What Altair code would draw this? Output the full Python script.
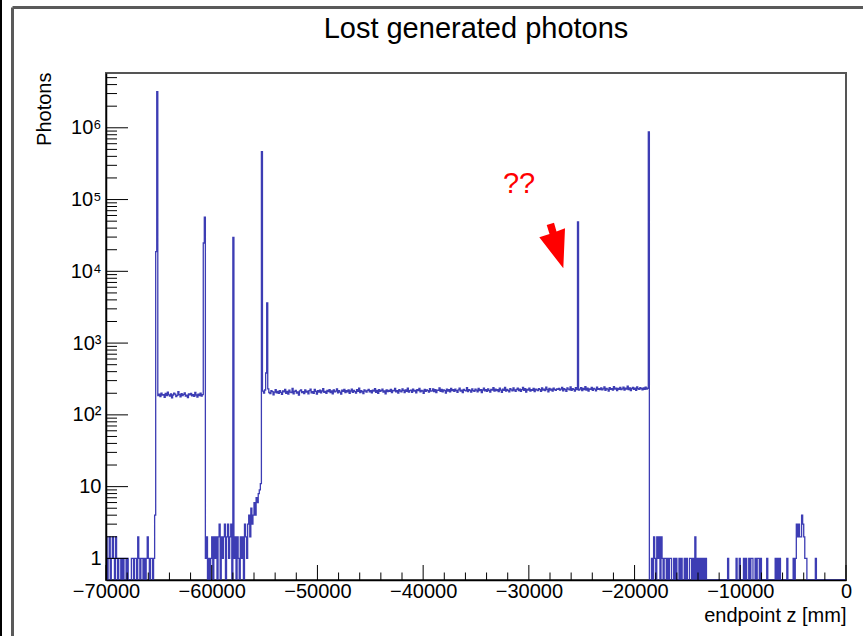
import altair as alt
import pandas as pd

FONT = "Liberation Sans"
BLUE = "#3d3db4"

# ---------------- histogram data (100 mm bins, -70000 .. 0) ----------------
BIN_WIDTH = 100
Z_START = -70000
N_BINS = 700

# bins starting at -70000 (low counts before the first wall)
low_a_counts = [2, 0, 1, 2, 0, 1, 2, 1, 0, 2,
                1, 0, 1, 1, 0, 1, 0, 1, 1, 0,
                1, 0, 0, 0, 1, 1, 0, 1, 1, 0,
                2, 1, 0, 1, 1, 0, 1, 0, 1, 2,
                1, 0, 1, 1, 0, 1, 4]

# first plateau (~190 photons / bin)
plateau_1_start = -65100
plateau_1_counts = [186, 195, 179, 201, 188, 192, 176, 199, 185, 207,
                    190, 183, 196, 172, 189, 201, 194, 180, 187, 210,
                    191, 178, 198, 185, 193, 203, 182, 188, 174, 196,
                    190, 199, 184, 192, 181, 205, 189, 177, 195, 186,
                    200, 183, 192]

# low counts between the two plateaus
low_c_start = -60600
low_c_counts = [1, 2, 0, 1, 0, 1, 2, 0, 2, 1,
                2, 0, 2, 3, 0, 2, 1, 2, 3, 0,
                2, 3, 1, 2, 3, 0, 0, 1, 2, 0,
                2, 1, 0, 2, 1, 2, 0, 3, 2, 1,
                3, 4, 2, 5, 3, 4, 6, 4, 7, 6,
                8, 9, 11]

# second plateau (~210 rising to ~235 photons / bin)
plateau_2_start = -55200
plateau_2_counts = [
    214, 201, 222, 196, 209, 230, 205, 198, 217, 211, 190, 207, 224, 203, 212, 199, 218, 206, 193, 215,
    210, 226, 200, 213, 195, 221, 208, 204, 233, 197, 212, 219, 201, 209, 188, 216, 222, 205, 211, 198,
    223, 207, 214, 196, 218, 229, 203, 210, 199, 226, 212, 194, 217, 208, 221, 202, 215, 231, 206, 213,
    200, 219, 211, 225, 204, 216, 197, 222, 209, 214, 230, 203, 218, 207, 195, 221, 212, 226, 205, 217,
    209, 223, 199, 215, 228, 206, 219, 211, 201, 224, 213, 236, 204, 217, 210, 198, 222, 215, 207, 220,
    227, 210, 218, 203, 221, 214, 232, 206, 219, 200, 224, 212, 217, 229, 208, 215, 197, 223, 211, 219,
    213, 226, 205, 220, 216, 233, 209, 218, 201, 224, 215, 210, 230, 219, 204, 222, 213, 236, 208, 217,
    221, 206, 228, 214, 219, 202, 225, 217, 233, 210, 220, 215, 199, 226, 212, 223, 218, 207, 231, 214,
    216, 230, 211, 224, 205, 221, 219, 238, 213, 226, 209, 222, 217, 201, 229, 215, 224, 210, 233, 218,
    225, 212, 229, 218, 206, 223, 235, 214, 221, 204, 227, 219, 216, 240, 211, 224, 220, 207, 230, 217,
    213, 228, 221, 209, 233, 218, 225, 205, 222, 236, 216, 224, 212, 230, 219, 208, 227, 221, 239, 215,
    229, 217, 224, 211, 235, 221, 206, 228, 219, 242, 214, 226, 220, 209, 232, 223, 216, 237, 222, 213,
    226, 235, 218, 229, 212, 224, 241, 219, 231, 208, 227, 222, 236, 215, 225, 220, 233, 211, 228, 223,
    218, 231, 225, 213, 238, 222, 229, 217, 244, 226, 210, 233, 221, 228, 215, 236, 224, 219, 230, 227,
    234, 221, 229, 242, 216, 231, 225, 212, 237, 228, 223, 246, 219, 232, 226, 214, 239, 224, 230, 221,
    229, 240, 218, 233, 225, 247, 222, 236, 214, 230, 227, 241, 220, 234, 228, 216, 243, 226, 231, 224,
    237, 223, 230, 245, 219, 234, 228, 215, 240, 226, 232, 221, 248, 229, 236, 218, 233, 227, 242, 225,
    230, 244, 222, 236, 229, 251, 224, 238, 217, 233, 241, 227, 235, 220, 246, 231, 226, 239, 232, 223,
    238, 227, 243, 229, 235]

# sparse counts after the last wall (bin left edges in mm)
tail_z = [-18400, -18300, -18200, -18100, -18000, -17900, -17800, -17700, -17600, -17500,
          -17400, -17300, -17200, -17100, -17000, -16900, -16800, -16700, -16600,
          -16300, -16100, -15800, -15600, -15300, -15100,
          -14800, -14700, -14500, -14300, -14100, -13900, -13700, -13500, -13300,
          -11200, -10400, -10100, -9700, -9500, -9200, -9000, -8900, -8600, -8400,
          -8300, -8100, -7500, -6700, -6500, -6300, -5600, -5000,
          -4800, -4700, -4600, -4500, -4400, -4300, -4200, -4100, -4000, -3900, -3800,
          -2900]
tail_counts = [1, 0, 2, 1, 0, 2, 1, 2, 0, 2,
               1, 0, 1, 1, 0, 1, 0, 1, 1,
               1, 1, 1, 1, 1, 1,
               1, 1, 1, 2, 1, 1, 1, 1, 1,
               1, 1, 1, 1, 1, 1, 1, 1, 1, 1,
               1, 1, 1, 1, 1, 1, 1, 1,
               1, 3, 2, 3, 2, 2, 4, 3, 2, 1, 1,
               1]

# narrow spikes (bin left edge in mm, photons)
spike_z = [-65300, -65200, -60800, -60700, -58000, -55300, -54900, -54800, -25400, -18700]
spike_counts = [18800, 3180000, 24800, 57000, 29800, 464000, 383, 3620, 49000, 873000]

# axis labels
x_tick_labels = [-70000, -60000, -50000, -40000, -30000, -20000, -10000, 0]
y_tick_labels = [1, 10, 100, 1000, 10000, 100000, 1000000]

# annotation ("??" and red arrow), in data coordinates
annot_text_z = [-30930]
annot_text_y = [123400]
annot_arrow_z = [-27810]
annot_arrow_y = [22900]

# ---------------- assemble the histogram ----------------
counts = [0] * N_BINS


def put(start_z, values):
    i0 = (start_z - Z_START) // BIN_WIDTH
    for k, v in enumerate(values):
        if 0 <= i0 + k < N_BINS:
            counts[i0 + k] = v


put(Z_START, low_a_counts)
put(plateau_1_start, plateau_1_counts)
put(low_c_start, low_c_counts)
put(plateau_2_start, plateau_2_counts)
for z, c in zip(tail_z, tail_counts):
    put(z, [c])
for z, c in zip(spike_z, spike_counts):
    put(z, [c])

edges = [Z_START + BIN_WIDTH * i for i in range(N_BINS)] + [0]
hist_df = pd.DataFrame({"z": edges, "photons": counts + [counts[-1]]})

x_scale = alt.Scale(domain=[-70000, 0], nice=False, zero=False)
y_scale = alt.Scale(type="log", domain=[0.5, 5.8e6], nice=False)

W, H = 740, 507

y_label_expr = ("datum.value == 1 ? '1' : datum.value == 10 ? '10' : "
                "datum.value == 100 ? '10²' : datum.value == 1000 ? '10³' : "
                "datum.value == 10000 ? '10⁴' : datum.value == 100000 ? '10⁵' : '10⁶'")

hist = alt.Chart(hist_df).transform_calculate(
    shown="max(datum.photons, 0.5)"
).mark_line(interpolate="step-after", color=BLUE, strokeWidth=1.3).encode(
    x=alt.X("z:Q", scale=x_scale, axis=alt.Axis(
        values=x_tick_labels, format="d", ticks=False, tickSize=0, grid=False,
        labelFont=FONT, labelFontSize=20, labelColor="black", labelPadding=17,
        labelBaseline="alphabetic", labelFlush=False, labelOverlap=False,
        domainColor="black", domainWidth=1.5,
        title="endpoint z [mm]", titleFont=FONT, titleFontSize=20,
        titleFontWeight="normal", titleColor="black", titleX=W, titleY=41,
        titleAlign="right", titleBaseline="alphabetic", zindex=1)),
    y=alt.Y("shown:Q", scale=y_scale, axis=alt.Axis(
        values=y_tick_labels, labelExpr=y_label_expr, ticks=False, tickSize=0,
        grid=False, labelFont=FONT, labelFontSize=20, labelColor="black",
        labelPadding=5, labelAlign="right", labelBaseline="middle",
        labelOverlap=False, labelFlush=False,
        domainColor="black", domainWidth=1.5,
        title="Photons", titleFont=FONT, titleFontSize=20,
        titleFontWeight="normal", titleColor="black", titleAngle=270,
        titleX=-62, titleY=-1, titleAlign="right", titleBaseline="middle",
        zindex=1)),
)

# inward ticks (ROOT style)
y_major = pd.DataFrame({"v": y_tick_labels})
y_minor = pd.DataFrame({"v": [m * 10 ** k for k in range(0, 7) for m in range(2, 10)
                              if m * 10 ** k <= 5.8e6]})
x_all = list(range(-70000, 1, 2000))
x_major = pd.DataFrame({"v": [v for v in x_all if v % 10000 == 0]})
x_minor = pd.DataFrame({"v": [v for v in x_all if v % 10000 != 0]})

ytm = alt.Chart(y_major).mark_rule(color="black", strokeWidth=1).encode(
    y=alt.Y("v:Q", scale=y_scale, axis=None), x=alt.value(0), x2=alt.value(22))
ytn = alt.Chart(y_minor).mark_rule(color="black", strokeWidth=1).encode(
    y=alt.Y("v:Q", scale=y_scale, axis=None), x=alt.value(0), x2=alt.value(11))
xtm = alt.Chart(x_major).mark_rule(color="black", strokeWidth=1).encode(
    x=alt.X("v:Q", scale=x_scale, axis=None), y=alt.value(H), y2=alt.value(H - 15))
xtn = alt.Chart(x_minor).mark_rule(color="black", strokeWidth=1).encode(
    x=alt.X("v:Q", scale=x_scale, axis=None), y=alt.value(H), y2=alt.value(H - 7.5))

# annotation
qq = alt.Chart(pd.DataFrame({"z": annot_text_z, "y": annot_text_y})).mark_text(
    text="??", font=FONT, fontSize=29, color="#ff0000", align="center",
    baseline="alphabetic").encode(
    x=alt.X("z:Q", scale=x_scale, axis=None), y=alt.Y("y:Q", scale=y_scale, axis=None))

ARROW = ("M -0.212 -0.82 L 0.08 -0.912 L 0.18 -0.56 L 0.52 -0.688 "
         "L 0.452 0.912 L -0.508 -0.328 L -0.1 -0.46 Z")
arrow = alt.Chart(pd.DataFrame({"z": annot_arrow_z, "y": annot_arrow_y})).mark_point(
    shape=ARROW, filled=True, size=2500, color="#ff0000", opacity=1, strokeWidth=0).encode(
    x=alt.X("z:Q", scale=x_scale, axis=None), y=alt.Y("y:Q", scale=y_scale, axis=None))

one = pd.DataFrame({"k": [0]})
title = alt.Chart(one).mark_text(
    text="Lost generated photons", font=FONT, fontSize=29, color="black",
    align="center", baseline="alphabetic").encode(x=alt.value(W / 2), y=alt.value(-35))

# canvas frame (screenshot border)
frame_black = alt.Chart(one).mark_rule(color="black", strokeWidth=2).encode(
    x=alt.value(-105), y=alt.value(-73), y2=alt.value(563))
frame_grey_v = alt.Chart(one).mark_rule(color="#5a5a5a", strokeWidth=3).encode(
    x=alt.value(-93.5), y=alt.value(-65.5), y2=alt.value(563))
frame_grey_h = alt.Chart(one).mark_rule(color="#5a5a5a", strokeWidth=3).encode(
    x=alt.value(-93.5), x2=alt.value(757), y=alt.value(-65.5))

chart = alt.layer(
    hist, ytm, ytn, xtm, xtn, qq, arrow, title, frame_black, frame_grey_v, frame_grey_h
).resolve_axis(
    x="independent", y="independent"
).properties(
    width=W, height=H,
    padding={"left": 106, "top": 73, "right": 17, "bottom": 56},
    autosize=alt.AutoSizeParams(type="none"),
    background="white",
).configure_view(stroke="#555555", strokeWidth=2)

chart.save("out.html", embed_options={"renderer": "svg", "actions": False})
